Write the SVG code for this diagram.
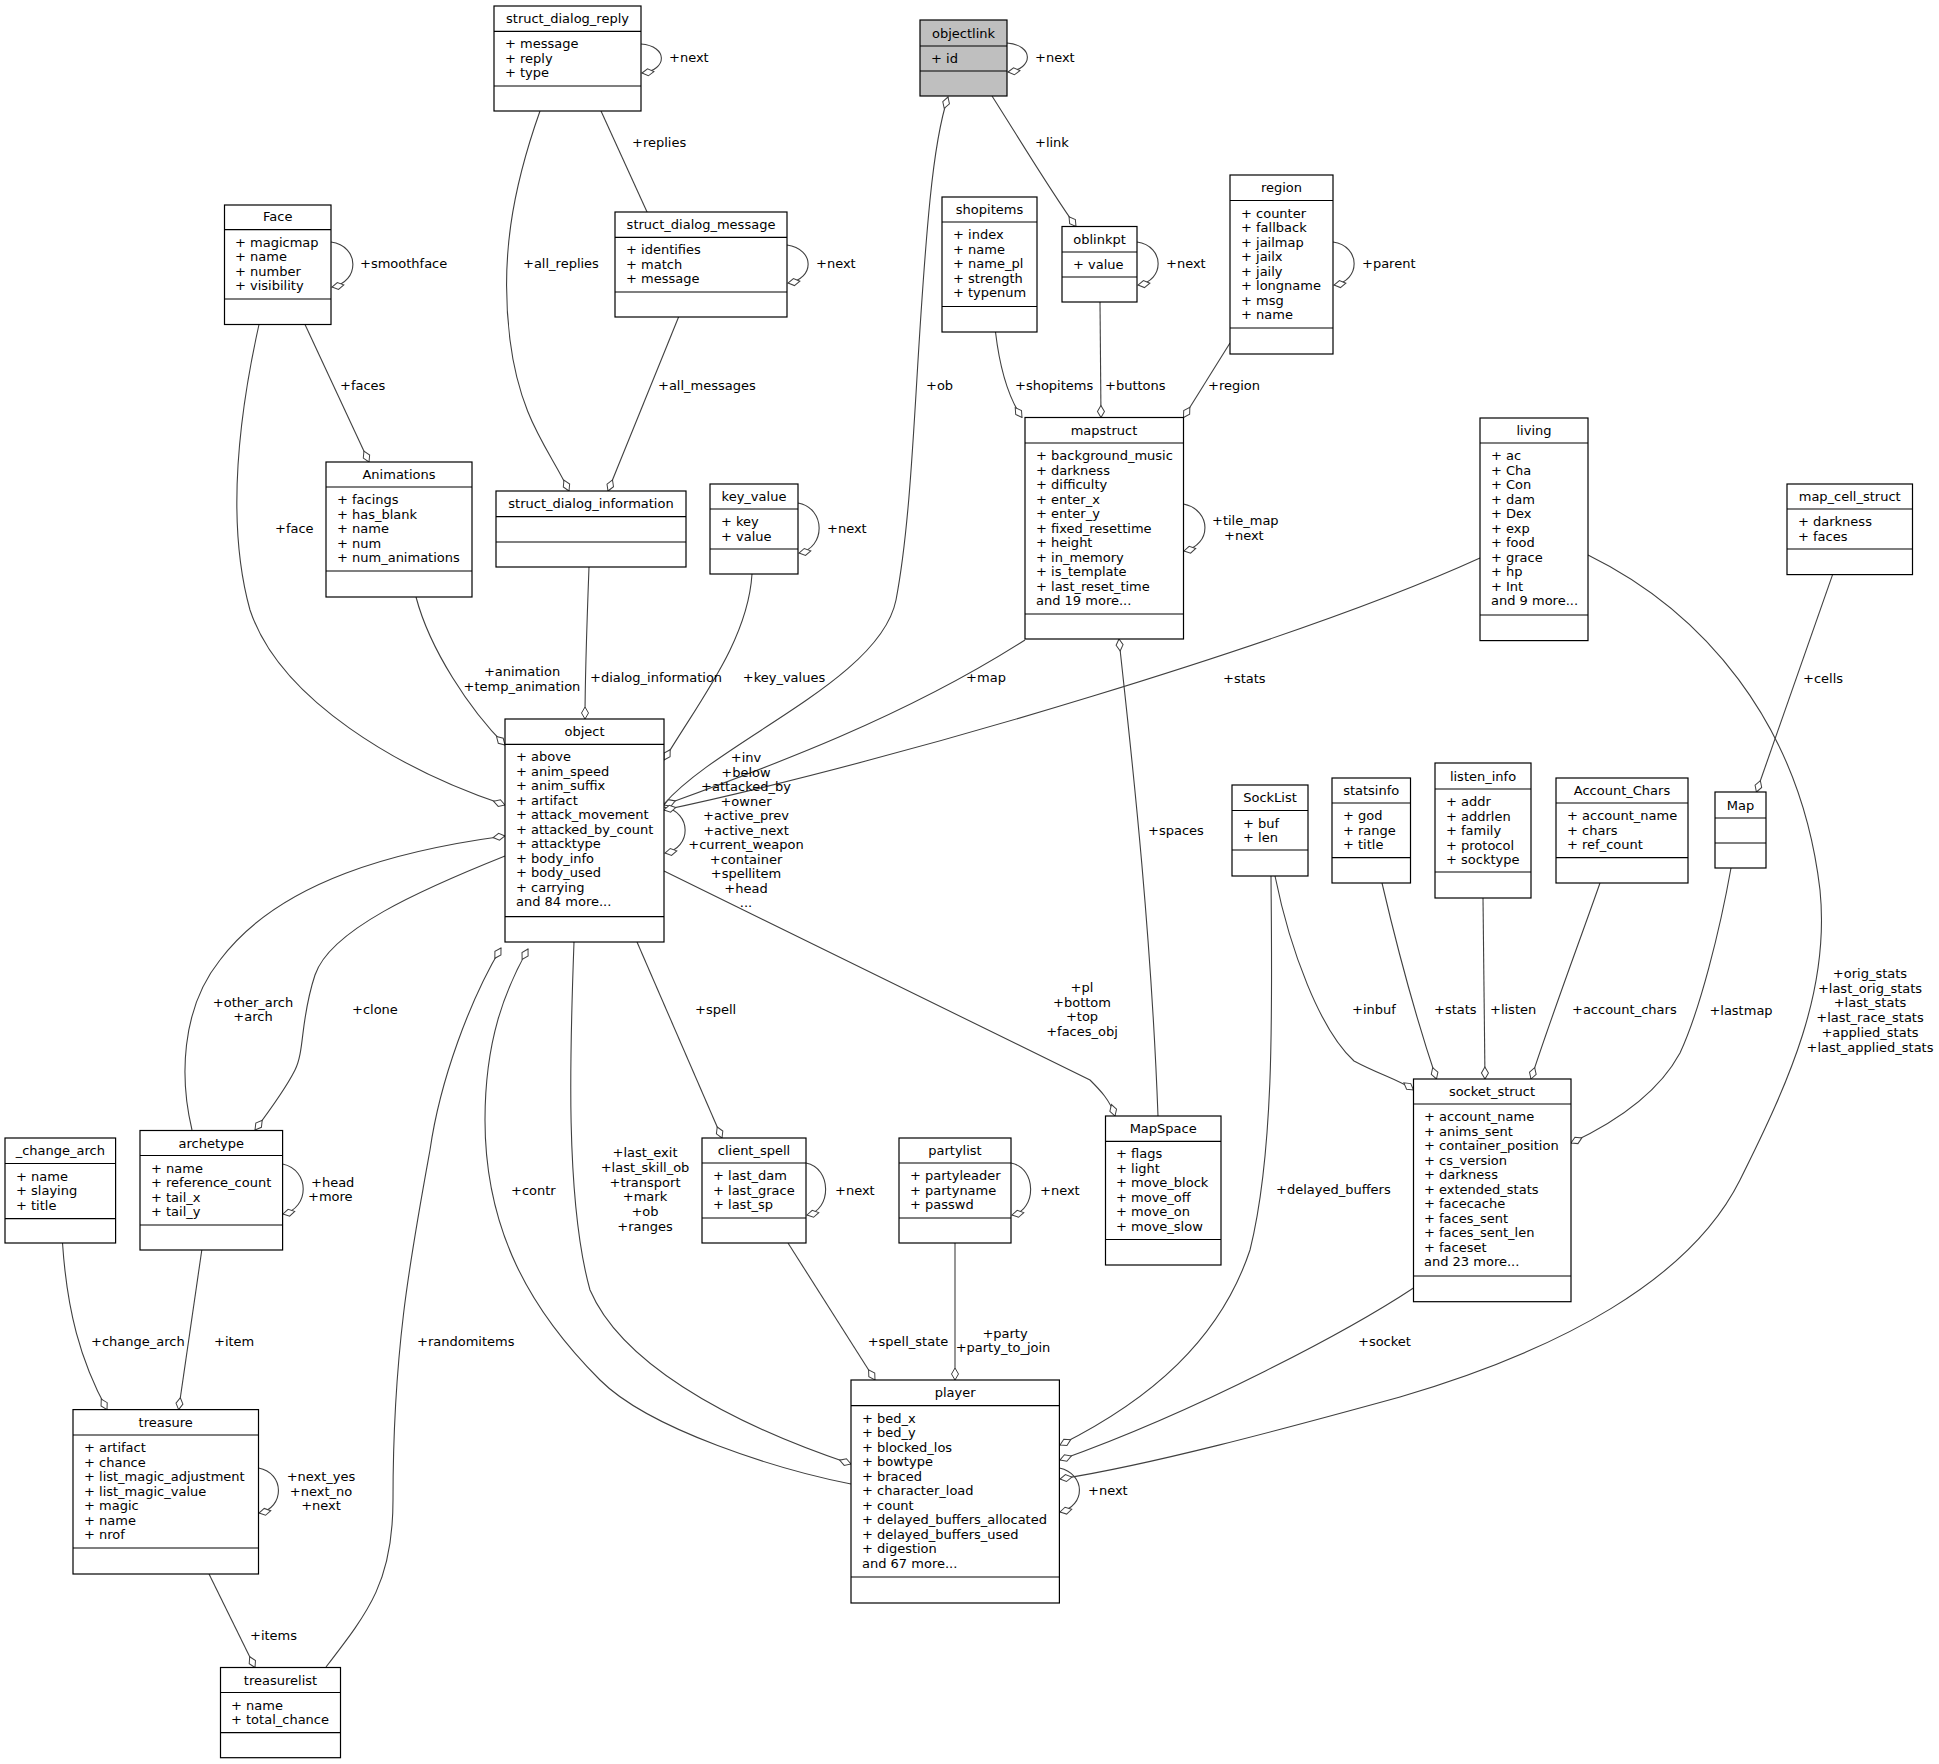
<svg xmlns="http://www.w3.org/2000/svg" width="1939" height="1764" viewBox="0 0 1939 1764">
<style>
text{font-family:"DejaVu Sans","Liberation Sans",sans-serif;font-size:13px;fill:#000}
.t{text-anchor:middle}
.box rect{fill:#fff;stroke:#000;stroke-width:1.2}
.box line{stroke:#000;stroke-width:1.2}
.gray rect{fill:#bfbfbf}
#edges path{fill:none;stroke:#404040;stroke-width:1.1}
.d{marker-end:url(#dia)}
</style>
<defs>
<marker id="dia" markerUnits="userSpaceOnUse" markerWidth="14" markerHeight="10" viewBox="-13 -5 14 10" refX="0" refY="0" orient="auto">
<path d="M0,0 L-6,-3.5 L-12,0 L-6,3.5 Z" fill="#fff" stroke="#404040" stroke-width="1"/>
</marker>
</defs>
<rect width="1939" height="1764" fill="#fff"/>
<g id="edges">
<path class="d" d="M641,44 C668,46 668,70 642,73"/>
<path class="d" d="M1007,43 C1034,45 1034,69 1008,72"/>
<path class="d" d="M331,242 C360,246 360,282 332,287"/>
<path class="d" d="M787,245 C815,249 815,279 788,283"/>
<path class="d" d="M1137,242 C1165,246 1165,281 1138,285"/>
<path class="d" d="M1333,242 C1361,246 1361,281 1334,285"/>
<path class="d" d="M1183.5,504 C1212,510 1212,545 1184,551"/>
<path class="d" d="M798,503 C826,508 826,548 799,553"/>
<path class="d" d="M664,807 C692,812 692,848 665,853"/>
<path class="d" d="M282.6,1164 C310,1170 310,1208 283,1214"/>
<path class="d" d="M258.5,1468 C285,1473 285,1508 259,1513"/>
<path class="d" d="M806,1163 C832,1168 832,1210 807,1215"/>
<path class="d" d="M1011,1163 C1037,1168 1037,1210 1012,1215"/>
<path class="d" d="M1059.4,1468 C1086,1474 1086,1506 1060,1512"/>
<path class="d" d="M601,111 L663,247"/>
<path class="d" d="M540,111 C512,190 500,260 510,340 C520,420 550,450 569,491"/>
<path class="d" d="M678.6,317 L608,491"/>
<path class="d" d="M305,324.5 L369,462"/>
<path class="d" d="M259,324.5 C240,410 225,520 250,610 C280,700 400,770 505,805"/>
<path class="d" d="M416,597 C430,650 470,710 505,745"/>
<path class="d" d="M589,567 C587,620 585,680 585,719"/>
<path class="d" d="M752,574 C748,640 700,700 664,760"/>
<path class="d" d="M664,804 C720,740 880,680 896,600 C915,500 915,350 930,200 C936,140 942,115 948,97"/>
<path class="d" d="M992,96 C1020,140 1050,190 1076,226.5"/>
<path class="d" d="M1100,302 L1101,417.5"/>
<path class="d" d="M995.5,332 C1000,370 1010,400 1022,417.5"/>
<path class="d" d="M1230,343 L1183.5,417.5"/>
<path class="d" d="M1025,640 C900,720 760,770 664,805"/>
<path class="d" d="M1480,558 C1300,640 900,760 664,810"/>
<path class="d" d="M1158,1116 C1150,900 1125,700 1119,639"/>
<path class="d" d="M1832.6,574.6 L1756.4,792"/>
<path class="d" d="M664,871 L1090,1080 C1100,1090 1110,1100 1115,1116"/>
<path class="d" d="M637,942 L722,1138"/>
<path class="d" d="M851,1484 C780,1470 650,1430 600,1380 C530,1310 485,1230 485,1120 C485,1040 505,990 528,949"/>
<path class="d" d="M326,1667 C370,1610 393,1580 393,1500 C393,1350 410,1260 430,1150 C440,1080 470,1000 501,948"/>
<path class="d" d="M574,942 C570,1050 565,1200 590,1290 C620,1360 720,1420 851,1464"/>
<path class="d" d="M505,856 C420,890 330,930 315,975 C300,1020 305,1050 295,1070 C285,1090 270,1110 255,1130"/>
<path class="d" d="M192,1130 C180,1080 180,1010 220,960 C280,880 400,850 505,836"/>
<path class="d" d="M201.8,1250 L178.6,1409.6"/>
<path class="d" d="M62.5,1243 C67,1310 80,1360 107,1409.6"/>
<path class="d" d="M209,1574 L255,1667.5"/>
<path class="d" d="M788,1243 L875,1380"/>
<path class="d" d="M955,1243 L955,1380"/>
<path class="d" d="M1271,876 C1272,1000 1275,1150 1250,1250 C1220,1340 1150,1400 1060,1445"/>
<path class="d" d="M1413.5,1288 C1350,1330 1200,1410 1060,1460"/>
<path class="d" d="M1588,555 C1700,610 1800,720 1820,890 C1830,990 1790,1080 1740,1180 C1690,1280 1560,1350 1400,1397 C1280,1430 1150,1465 1060,1479"/>
<path class="d" d="M1275,876 C1290,950 1320,1030 1354,1061 C1380,1075 1400,1080 1413.5,1090"/>
<path class="d" d="M1382,883 C1400,960 1420,1030 1436.5,1079"/>
<path class="d" d="M1483,898 L1485,1079"/>
<path class="d" d="M1600,883 C1580,940 1550,1020 1531,1079"/>
<path class="d" d="M1731,868 C1720,930 1700,1010 1680,1053 C1660,1090 1620,1120 1571,1143"/>
<text x="669" y="62">+next</text>
<text x="1035" y="62">+next</text>
<text x="360" y="268">+smoothface</text>
<text x="816" y="268">+next</text>
<text x="1166" y="268">+next</text>
<text x="1362" y="268">+parent</text>
<text x="1212" y="525">+tile_map</text>
<text x="1224" y="540">+next</text>
<text x="827" y="533">+next</text>
<text class="t" x="746" y="762">+inv</text>
<text class="t" x="746" y="776.5">+below</text>
<text class="t" x="746" y="791">+attacked_by</text>
<text class="t" x="746" y="805.5">+owner</text>
<text class="t" x="746" y="820">+active_prev</text>
<text class="t" x="746" y="834.5">+active_next</text>
<text class="t" x="746" y="849">+current_weapon</text>
<text class="t" x="746" y="863.5">+container</text>
<text class="t" x="746" y="878">+spellitem</text>
<text class="t" x="746" y="892.5">+head</text>
<text class="t" x="746" y="907">...</text>
<text x="311" y="1187">+head</text>
<text x="308" y="1201">+more</text>
<text class="t" x="321" y="1481">+next_yes</text>
<text class="t" x="321" y="1496">+next_no</text>
<text class="t" x="321" y="1510">+next</text>
<text x="835" y="1195">+next</text>
<text x="1040" y="1195">+next</text>
<text x="1088" y="1495">+next</text>
<text x="632" y="147">+replies</text>
<text x="523" y="268">+all_replies</text>
<text x="658" y="390">+all_messages</text>
<text x="340" y="390">+faces</text>
<text x="275" y="533">+face</text>
<text class="t" x="522" y="676">+animation</text>
<text class="t" x="522" y="691">+temp_animation</text>
<text x="590" y="682">+dialog_information</text>
<text class="t" x="784" y="682">+key_values</text>
<text x="926" y="390">+ob</text>
<text x="1035" y="147">+link</text>
<text x="1105" y="390">+buttons</text>
<text x="1015" y="390">+shopitems</text>
<text x="1208" y="390">+region</text>
<text class="t" x="986" y="682">+map</text>
<text x="1223" y="683">+stats</text>
<text x="1148" y="835">+spaces</text>
<text x="1803" y="683">+cells</text>
<text class="t" x="1082" y="992">+pl</text>
<text class="t" x="1082" y="1006.5">+bottom</text>
<text class="t" x="1082" y="1021">+top</text>
<text class="t" x="1082" y="1035.5">+faces_obj</text>
<text x="695" y="1014">+spell</text>
<text x="511" y="1195">+contr</text>
<text x="417" y="1346">+randomitems</text>
<text class="t" x="645" y="1157">+last_exit</text>
<text class="t" x="645" y="1172">+last_skill_ob</text>
<text class="t" x="645" y="1186.5">+transport</text>
<text class="t" x="645" y="1201">+mark</text>
<text class="t" x="645" y="1216">+ob</text>
<text class="t" x="645" y="1231">+ranges</text>
<text x="352" y="1014">+clone</text>
<text class="t" x="253" y="1007">+other_arch</text>
<text class="t" x="253" y="1021">+arch</text>
<text x="214" y="1346">+item</text>
<text x="91" y="1346">+change_arch</text>
<text x="250" y="1640">+items</text>
<text class="t" x="908" y="1346">+spell_state</text>
<text class="t" x="1005" y="1338">+party</text>
<text class="t" x="1003" y="1352">+party_to_join</text>
<text x="1276" y="1194">+delayed_buffers</text>
<text x="1358" y="1346">+socket</text>
<text class="t" x="1870" y="978">+orig_stats</text>
<text class="t" x="1870" y="992.7">+last_orig_stats</text>
<text class="t" x="1870" y="1007.4">+last_stats</text>
<text class="t" x="1870" y="1022">+last_race_stats</text>
<text class="t" x="1870" y="1036.8">+applied_stats</text>
<text class="t" x="1870" y="1051.5">+last_applied_stats</text>
<text x="1352" y="1014">+inbuf</text>
<text x="1434" y="1014">+stats</text>
<text x="1490" y="1014">+listen</text>
<text x="1572" y="1014">+account_chars</text>
<text class="t" x="1741" y="1015">+lastmap</text>
</g>
<g id="struct_dialog_reply" class="box"><rect x="494" y="6" width="147" height="105"/><line x1="494" y1="31.4" x2="641" y2="31.4"/><line x1="494" y1="86" x2="641" y2="86"/><text class="t" x="567.5" y="23.2">struct_dialog_reply</text><text x="505" y="48.4">+ message</text><text x="505" y="62.9">+ reply</text><text x="505" y="77.4">+ type</text></g>
<g id="objectlink" class="box gray"><rect x="920" y="20" width="87" height="76"/><line x1="920" y1="46" x2="1007" y2="46"/><line x1="920" y1="71" x2="1007" y2="71"/><text class="t" x="963.5" y="37.5">objectlink</text><text x="931" y="63">+ id</text></g>
<g id="Face" class="box"><rect x="224.5" y="205" width="106.5" height="119.5"/><line x1="224.5" y1="229.6" x2="331" y2="229.6"/><line x1="224.5" y1="299" x2="331" y2="299"/><text class="t" x="277.7" y="221.4">Face</text><text x="235" y="246.6">+ magicmap</text><text x="235" y="261.1">+ name</text><text x="235" y="275.6">+ number</text><text x="235" y="290.1">+ visibility</text></g>
<g id="struct_dialog_message" class="box"><rect x="615" y="212" width="172" height="105"/><line x1="615" y1="237.3" x2="787" y2="237.3"/><line x1="615" y1="292" x2="787" y2="292"/><text class="t" x="701" y="229">struct_dialog_message</text><text x="626" y="254.3">+ identifies</text><text x="626" y="268.8">+ match</text><text x="626" y="283.3">+ message</text></g>
<g id="shopitems" class="box"><rect x="942" y="197" width="95" height="135"/><line x1="942" y1="222" x2="1037" y2="222"/><line x1="942" y1="306.5" x2="1037" y2="306.5"/><text class="t" x="989.5" y="214">shopitems</text><text x="953" y="239">+ index</text><text x="953" y="253.5">+ name</text><text x="953" y="268">+ name_pl</text><text x="953" y="282.5">+ strength</text><text x="953" y="297">+ typenum</text></g>
<g id="oblinkpt" class="box"><rect x="1062" y="226.5" width="75" height="75.5"/><line x1="1062" y1="252" x2="1137" y2="252"/><line x1="1062" y1="277" x2="1137" y2="277"/><text class="t" x="1099.5" y="243.8">oblinkpt</text><text x="1073" y="269">+ value</text></g>
<g id="region" class="box"><rect x="1230" y="175" width="103" height="179"/><line x1="1230" y1="200.5" x2="1333" y2="200.5"/><line x1="1230" y1="328" x2="1333" y2="328"/><text class="t" x="1281.5" y="192.3">region</text><text x="1241" y="217.5">+ counter</text><text x="1241" y="232">+ fallback</text><text x="1241" y="246.5">+ jailmap</text><text x="1241" y="261">+ jailx</text><text x="1241" y="275.5">+ jaily</text><text x="1241" y="290">+ longname</text><text x="1241" y="304.5">+ msg</text><text x="1241" y="319">+ name</text></g>
<g id="mapstruct" class="box"><rect x="1025" y="417.5" width="158.5" height="221.5"/><line x1="1025" y1="443" x2="1183.5" y2="443"/><line x1="1025" y1="614" x2="1183.5" y2="614"/><text class="t" x="1104" y="434.8">mapstruct</text><text x="1036" y="460">+ background_music</text><text x="1036" y="474.5">+ darkness</text><text x="1036" y="489">+ difficulty</text><text x="1036" y="503.5">+ enter_x</text><text x="1036" y="518">+ enter_y</text><text x="1036" y="532.5">+ fixed_resettime</text><text x="1036" y="547">+ height</text><text x="1036" y="561.5">+ in_memory</text><text x="1036" y="576">+ is_template</text><text x="1036" y="590.5">+ last_reset_time</text><text x="1036" y="605">and 19 more...</text></g>
<g id="living" class="box"><rect x="1480" y="418" width="108" height="222.6"/><line x1="1480" y1="443" x2="1588" y2="443"/><line x1="1480" y1="615" x2="1588" y2="615"/><text class="t" x="1534" y="435">living</text><text x="1491" y="460">+ ac</text><text x="1491" y="474.5">+ Cha</text><text x="1491" y="489">+ Con</text><text x="1491" y="503.5">+ dam</text><text x="1491" y="518">+ Dex</text><text x="1491" y="532.5">+ exp</text><text x="1491" y="547">+ food</text><text x="1491" y="561.5">+ grace</text><text x="1491" y="576">+ hp</text><text x="1491" y="590.5">+ Int</text><text x="1491" y="605">and 9 more...</text></g>
<g id="map_cell_struct" class="box"><rect x="1787" y="484" width="125.5" height="90.6"/><line x1="1787" y1="509" x2="1912.5" y2="509"/><line x1="1787" y1="549" x2="1912.5" y2="549"/><text class="t" x="1849.7" y="501">map_cell_struct</text><text x="1798" y="526">+ darkness</text><text x="1798" y="540.5">+ faces</text></g>
<g id="Animations" class="box"><rect x="326" y="462" width="146" height="135"/><line x1="326" y1="487" x2="472" y2="487"/><line x1="326" y1="571" x2="472" y2="571"/><text class="t" x="399" y="479">Animations</text><text x="337" y="504">+ facings</text><text x="337" y="518.5">+ has_blank</text><text x="337" y="533">+ name</text><text x="337" y="547.5">+ num</text><text x="337" y="562">+ num_animations</text></g>
<g id="struct_dialog_information" class="box"><rect x="496" y="491" width="190" height="76"/><line x1="496" y1="516.6" x2="686" y2="516.6"/><line x1="496" y1="542" x2="686" y2="542"/><text class="t" x="591" y="508">struct_dialog_information</text></g>
<g id="key_value" class="box"><rect x="710" y="484" width="88" height="90"/><line x1="710" y1="509" x2="798" y2="509"/><line x1="710" y1="549" x2="798" y2="549"/><text class="t" x="754" y="501">key_value</text><text x="721" y="526">+ key</text><text x="721" y="540.5">+ value</text></g>
<g id="object" class="box"><rect x="505" y="719" width="159" height="223"/><line x1="505" y1="744.4" x2="664" y2="744.4"/><line x1="505" y1="916.6" x2="664" y2="916.6"/><text class="t" x="584.5" y="736">object</text><text x="516" y="761.4">+ above</text><text x="516" y="775.9">+ anim_speed</text><text x="516" y="790.4">+ anim_suffix</text><text x="516" y="804.9">+ artifact</text><text x="516" y="819.4">+ attack_movement</text><text x="516" y="833.9">+ attacked_by_count</text><text x="516" y="848.4">+ attacktype</text><text x="516" y="862.9">+ body_info</text><text x="516" y="877.4">+ body_used</text><text x="516" y="891.9">+ carrying</text><text x="516" y="906.4">and 84 more...</text></g>
<g id="SockList" class="box"><rect x="1232" y="785" width="76" height="91"/><line x1="1232" y1="810.5" x2="1308" y2="810.5"/><line x1="1232" y1="850" x2="1308" y2="850"/><text class="t" x="1270" y="802.3">SockList</text><text x="1243" y="827.5">+ buf</text><text x="1243" y="842">+ len</text></g>
<g id="statsinfo" class="box"><rect x="1332" y="778" width="78.5" height="105"/><line x1="1332" y1="803" x2="1410.5" y2="803"/><line x1="1332" y1="857.6" x2="1410.5" y2="857.6"/><text class="t" x="1371.2" y="795">statsinfo</text><text x="1343" y="820">+ god</text><text x="1343" y="834.5">+ range</text><text x="1343" y="849">+ title</text></g>
<g id="listen_info" class="box"><rect x="1435" y="763" width="96" height="135"/><line x1="1435" y1="789" x2="1531" y2="789"/><line x1="1435" y1="872" x2="1531" y2="872"/><text class="t" x="1483" y="780.5">listen_info</text><text x="1446" y="806">+ addr</text><text x="1446" y="820.5">+ addrlen</text><text x="1446" y="835">+ family</text><text x="1446" y="849.5">+ protocol</text><text x="1446" y="864">+ socktype</text></g>
<g id="Account_Chars" class="box"><rect x="1556" y="778" width="132" height="105"/><line x1="1556" y1="803" x2="1688" y2="803"/><line x1="1556" y1="857.6" x2="1688" y2="857.6"/><text class="t" x="1622" y="795">Account_Chars</text><text x="1567" y="820">+ account_name</text><text x="1567" y="834.5">+ chars</text><text x="1567" y="849">+ ref_count</text></g>
<g id="Map" class="box"><rect x="1715" y="792" width="51" height="76"/><line x1="1715" y1="818" x2="1766" y2="818"/><line x1="1715" y1="843" x2="1766" y2="843"/><text class="t" x="1740.5" y="809.5">Map</text></g>
<g id="socket_struct" class="box"><rect x="1413.5" y="1079" width="157.5" height="222.7"/><line x1="1413.5" y1="1104" x2="1571" y2="1104"/><line x1="1413.5" y1="1276" x2="1571" y2="1276"/><text class="t" x="1492" y="1096">socket_struct</text><text x="1424" y="1121">+ account_name</text><text x="1424" y="1135.5">+ anims_sent</text><text x="1424" y="1150">+ container_position</text><text x="1424" y="1164.5">+ cs_version</text><text x="1424" y="1179">+ darkness</text><text x="1424" y="1193.5">+ extended_stats</text><text x="1424" y="1208">+ facecache</text><text x="1424" y="1222.5">+ faces_sent</text><text x="1424" y="1237">+ faces_sent_len</text><text x="1424" y="1251.5">+ faceset</text><text x="1424" y="1266">and 23 more...</text></g>
<g id="MapSpace" class="box"><rect x="1105.5" y="1116" width="115.5" height="149"/><line x1="1105.5" y1="1141.4" x2="1221" y2="1141.4"/><line x1="1105.5" y1="1239.5" x2="1221" y2="1239.5"/><text class="t" x="1163.2" y="1133.2">MapSpace</text><text x="1116" y="1158.4">+ flags</text><text x="1116" y="1172.9">+ light</text><text x="1116" y="1187.4">+ move_block</text><text x="1116" y="1201.9">+ move_off</text><text x="1116" y="1216.4">+ move_on</text><text x="1116" y="1230.9">+ move_slow</text></g>
<g id="_change_arch" class="box"><rect x="5" y="1138" width="110.6" height="105"/><line x1="5" y1="1163.5" x2="115.6" y2="1163.5"/><line x1="5" y1="1218.6" x2="115.6" y2="1218.6"/><text class="t" x="60.3" y="1155.3">_change_arch</text><text x="16" y="1180.5">+ name</text><text x="16" y="1195">+ slaying</text><text x="16" y="1209.5">+ title</text></g>
<g id="archetype" class="box"><rect x="140" y="1130.5" width="142.6" height="119.5"/><line x1="140" y1="1155.5" x2="282.6" y2="1155.5"/><line x1="140" y1="1225" x2="282.6" y2="1225"/><text class="t" x="211.3" y="1147.5">archetype</text><text x="151" y="1172.5">+ name</text><text x="151" y="1187">+ reference_count</text><text x="151" y="1201.5">+ tail_x</text><text x="151" y="1216">+ tail_y</text></g>
<g id="client_spell" class="box"><rect x="702" y="1138" width="104" height="105"/><line x1="702" y1="1163" x2="806" y2="1163"/><line x1="702" y1="1218" x2="806" y2="1218"/><text class="t" x="754" y="1155">client_spell</text><text x="713" y="1180">+ last_dam</text><text x="713" y="1194.5">+ last_grace</text><text x="713" y="1209">+ last_sp</text></g>
<g id="partylist" class="box"><rect x="899" y="1138" width="112" height="105"/><line x1="899" y1="1163" x2="1011" y2="1163"/><line x1="899" y1="1218" x2="1011" y2="1218"/><text class="t" x="955" y="1155">partylist</text><text x="910" y="1180">+ partyleader</text><text x="910" y="1194.5">+ partyname</text><text x="910" y="1209">+ passwd</text></g>
<g id="treasure" class="box"><rect x="73" y="1409.6" width="185.5" height="164.4"/><line x1="73" y1="1435" x2="258.5" y2="1435"/><line x1="73" y1="1548" x2="258.5" y2="1548"/><text class="t" x="165.7" y="1426.8">treasure</text><text x="84" y="1452">+ artifact</text><text x="84" y="1466.5">+ chance</text><text x="84" y="1481">+ list_magic_adjustment</text><text x="84" y="1495.5">+ list_magic_value</text><text x="84" y="1510">+ magic</text><text x="84" y="1524.5">+ name</text><text x="84" y="1539">+ nrof</text></g>
<g id="player" class="box"><rect x="851" y="1380" width="208.4" height="223"/><line x1="851" y1="1405.7" x2="1059.4" y2="1405.7"/><line x1="851" y1="1577" x2="1059.4" y2="1577"/><text class="t" x="955.2" y="1397.4">player</text><text x="862" y="1422.7">+ bed_x</text><text x="862" y="1437.2">+ bed_y</text><text x="862" y="1451.7">+ blocked_los</text><text x="862" y="1466.2">+ bowtype</text><text x="862" y="1480.7">+ braced</text><text x="862" y="1495.2">+ character_load</text><text x="862" y="1509.7">+ count</text><text x="862" y="1524.2">+ delayed_buffers_allocated</text><text x="862" y="1538.7">+ delayed_buffers_used</text><text x="862" y="1553.2">+ digestion</text><text x="862" y="1567.7">and 67 more...</text></g>
<g id="treasurelist" class="box"><rect x="220.5" y="1667.5" width="120" height="90.2"/><line x1="220.5" y1="1692.5" x2="340.5" y2="1692.5"/><line x1="220.5" y1="1732.7" x2="340.5" y2="1732.7"/><text class="t" x="280.5" y="1684.5">treasurelist</text><text x="231" y="1709.5">+ name</text><text x="231" y="1724">+ total_chance</text></g>
</svg>
